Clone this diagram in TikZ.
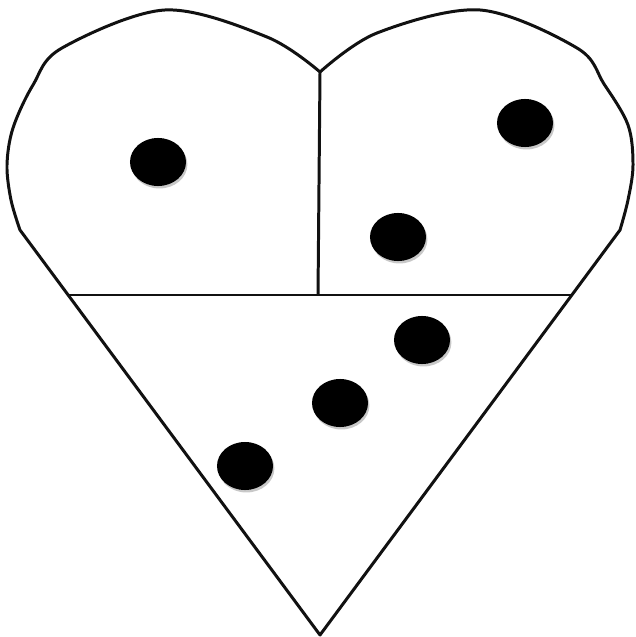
\documentclass[tikz,border=0pt]{standalone}
\usepackage{tikz}
\usetikzlibrary{shapes.geometric,shadows}
\definecolor{ink}{HTML}{111111}
\definecolor{halo}{HTML}{C8C8C8}

\begin{document}
\begin{tikzpicture}[
  x=0.01cm,y=-0.01cm,
  edge/.style={line width=0.85pt,draw=ink,line join=round},
  dot/.style={ellipse,fill=black,minimum width=0.56cm,minimum height=0.48cm,inner sep=0pt,
    drop shadow={shadow xshift=0.4pt,shadow yshift=-0.7pt,fill=halo,opacity=1}}
]
  \useasboundingbox (0,0) rectangle (635,637);
  % corners of the heart
  \coordinate (notch) at (320,72);
  \coordinate (tip) at (320,635);
  \coordinate (midl) at (68,295);
  \coordinate (midr) at (572,295);
  \coordinate (midc) at (318,295);
  % outline
  \draw[edge] plot[smooth,tension=0.55] coordinates {(320,72) (267,37) (165,10) (62,48) (33,85) (13,128) (7,165) (11,200) (20,230)}
    -- (tip)
    -- plot[smooth,tension=0.55] coordinates {(620,230) (628,200) (633,165) (628,125) (604,84) (577,48) (480,10) (377,33) (320,72)};
  % dividers
  \draw[edge] (midl) -- (midr);
  \draw[edge] (notch) -- (midc);
  % dots
  \node[dot] (d1) at (158,162) {};
  \node[dot] (d2) at (525,123) {};
  \node[dot] (d3) at (398,237) {};
  \node[dot] (d4) at (422,340) {};
  \node[dot] (d5) at (340,403) {};
  \node[dot] (d6) at (245,466) {};
\end{tikzpicture}
\end{document}
